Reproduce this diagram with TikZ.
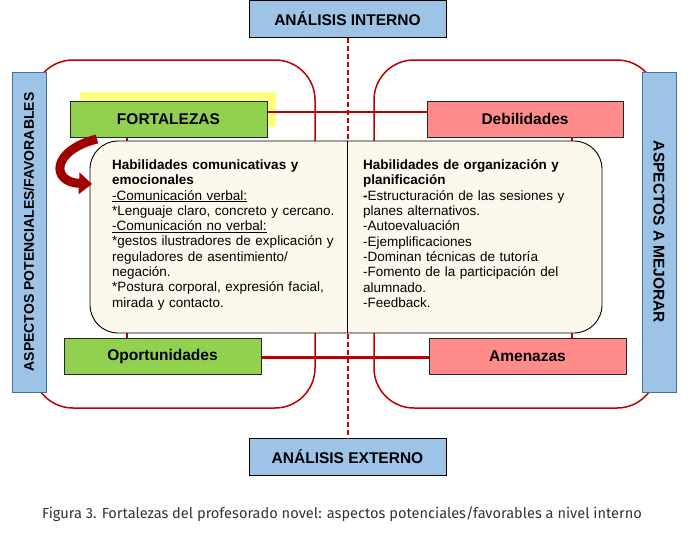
\documentclass[tikz,border=0pt]{standalone}
\usepackage{fontspec}
\setmainfont{Liberation Sans}
\newfontfamily\capfont{Fira Sans}
\usetikzlibrary{arrows.meta}
\definecolor{redline}{HTML}{C00000}
\definecolor{bluefill}{HTML}{9DC3E6}
\definecolor{blueedge}{HTML}{41719C}
\definecolor{greenfill}{HTML}{92D050}
\definecolor{pinkfill}{HTML}{FF8B8B}
\definecolor{creamfill}{HTML}{FDF8EC}
\definecolor{yellowhl}{HTML}{FFFF80}
\definecolor{arrowred}{HTML}{A00000}
\definecolor{captiongray}{HTML}{333333}
\tikzset{
  roundframe/.style={draw=redline, line width=1.5pt, rounded corners=40pt},
  linkline/.style={draw=redline, line width=2.6pt},
  vlink/.style={draw=redline, line width=2pt},
  anabox/.style={draw=black, line width=1pt, fill=bluefill, minimum width=197pt, minimum height=37pt, inner sep=0pt, font=\fontsize{15.5}{18}\selectfont\bfseries},
  sidebox/.style={draw=blueedge, line width=0.8pt, fill=bluefill, minimum width=320pt, minimum height=34pt, inner sep=0pt, font=\bfseries},
  quadbox/.style={draw=black!85, line width=1pt, minimum width=197pt, minimum height=36pt, inner sep=0pt, font=\fontsize{15.5}{18}\selectfont\bfseries},
  colntext/.style={anchor=north west, inner sep=0pt, text width=236pt, align=left, font=\fontsize{13.5}{15.3}\selectfont},
}
\begin{document}
\begin{tikzpicture}[x=1pt,y=-1pt]
\useasboundingbox (0,0) rectangle (695,538);
% outer red rounded frames
\draw[roundframe] (33,60) rectangle (315,408);
\draw[roundframe] (374,60) rectangle (657,408);
% top / bottom analysis boxes
\node[anabox] (intern) at (347.5,18.5) {ANÁLISIS INTERNO};
\node[anabox] (extern) at (347.5,457) {ANÁLISIS EXTERNO};
\draw[redline, line width=2pt, dash pattern=on 5pt off 3pt] (intern.south) -- (extern.north);
% side boxes
\node[sidebox, rotate=90, font=\fontsize{14}{16}\selectfont\bfseries] (leftside) at (29,232) {ASPECTOS POTENCIALES/FAVORABLES};
\node[sidebox, rotate=-90, font=\fontsize{15.5}{18}\selectfont\bfseries] (rightside) at (659,232) {ASPECTOS A MEJORAR};
% yellow highlight
\fill[yellowhl] (80,92) rectangle (276,127);
% quadrant boxes
\node[quadbox, fill=greenfill] (fort) at (168.5,119) {FORTALEZAS};
\node[quadbox, fill=pinkfill, minimum width=196pt] (deb) at (525,119) {Debilidades};
\node[quadbox, fill=greenfill] (oport) at (162.5,356) {Oportunidades};
\node[quadbox, fill=pinkfill] (amen) at (527.5,356) {Amenazas};
% links
\draw[linkline] ([yshift=7pt]fort.east) -- ([yshift=7pt]deb.west);
\draw[linkline] ([yshift=-1.5pt]oport.east) -- ([yshift=-1.5pt]amen.west);
\draw[vlink] ([xshift=57pt]fort.south west) -- ([xshift=63pt]oport.north west);
\draw[vlink] ([xshift=145pt]deb.south west) -- ([xshift=143pt]amen.north west);
% central box
\node[draw=black, line width=0.9pt, fill=creamfill, rounded corners=28pt, minimum width=512pt, minimum height=192pt, inner sep=0pt] (core) at (346,237) {};
\draw[black, line width=0.9pt] ([xshift=1pt]core.north) -- ([xshift=1pt]core.south);
% column texts
\node[colntext] (lefttext) at (112,159.5) {\textbf{Habilidades comunicativas y}\\
\textbf{emocionales}\\
\underline{-Comunicación verbal:}\\
{*}Lenguaje claro, concreto y cercano.\\
\underline{-Comunicación no verbal:}\\
{*}gestos ilustradores de explicación y\\
reguladores de asentimiento/\\
negación.\\
{*}Postura corporal, expresión facial,\\
mirada y contacto.};
\node[colntext] (righttext) at (363,159.5) {\textbf{Habilidades de organización y}\\
\textbf{planificación}\\
\textbf{-}Estructuración de las sesiones y\\
planes alternativos.\\
-Autoevaluación\\
-Ejemplificaciones\\
-Dominan técnicas de tutoría\\
-Fomento de la participación del\\
alumnado.\\
-Feedback.};
% curved arrow
\coordinate (arrstart) at (97,139);
\coordinate (arrend) at (92,184);
\draw[arrowred, line width=9pt, -{Triangle[width=21pt,length=13pt]}] (arrstart) .. controls (52,150) and (50,182) .. (arrend);
% caption
\node[text=captiongray, font=\capfont\fontsize{14.6}{16}\selectfont, inner sep=0pt] (caption) at (342,514) {Figura 3. Fortalezas del profesorado novel: aspectos potenciales/favorables a nivel interno};
\end{tikzpicture}
\end{document}
